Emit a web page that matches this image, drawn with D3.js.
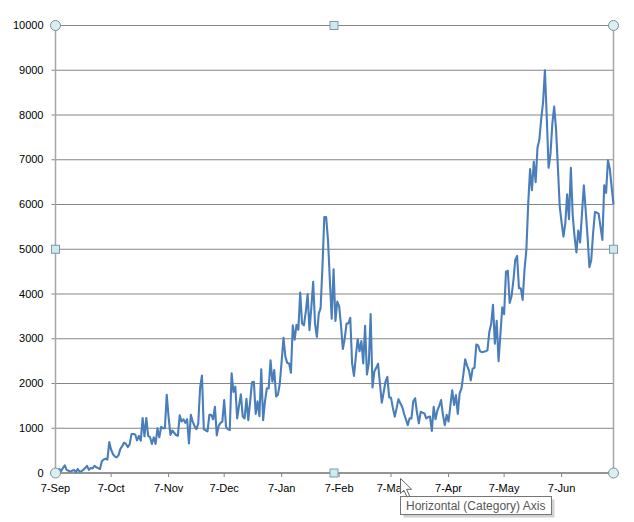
<!DOCTYPE html>
<html>
<head>
<meta charset="utf-8">
<script src="https://cdn.jsdelivr.net/npm/d3@7"></script>
<style>
  html, body { margin: 0; padding: 0; background: #fff; }
  svg { display: block; }
  text { font-family: "Liberation Sans", Arial, sans-serif; }
</style>
</head>
<body>
<svg id="chart" width="634" height="522"></svg>
<script>
// Daily counts, one entry per day from the start date onward.
const countsAutumn = [0,40,90,40,110,170,70,50,30,50,70,20,90,30,40,70,110,160,70,110,100,160,130,110,90,260,300,320,300,690,
  520,420,370,350,400,540,600,680,650,580,640,870,870,860,730,830,720,1230,820,1230,830,800,650,800,650,1000,800,1030,1000,1000,1750,
  1250,850,950,900,850,830,1290,1150,1200,1120,1200,660,1300,1150,1050,980,1100,1900,2180,980,950,930,1300,1300,1200,1480,840,1050,1120,1150,1630];
const countsWinter = [1030,980,960,2230,1810,1930,1220,1500,1760,1260,1220,1660,1180,1600,2030,2040,1320,1600,1270,2320,1180,1600,1890,1890,2520,2040,2300,1710,1750,2000,2500,
  3020,2600,2460,2450,2240,3300,2980,3310,3200,4030,3340,3300,3600,4000,3190,3700,4270,3340,3040,3560,3680,4600,5720,5720,5200,4300,3450,4550,3400,3830,3730,
  3300,2770,3000,3340,3340,3470,2450,2170,2600,2990,2720,2950,2450,3290,2200,2450,3550,1910,2270,2350,2440,2000,1570,1800,2040,2150,1690,1680];
const countsSpring = [1450,1260,1450,1650,1560,1480,1330,1200,1070,1220,1220,1600,1670,1350,1110,1370,1350,1330,1220,1250,1260,940,1480,1200,1400,1500,1630,1300,1070,1300,1150,
  1500,1850,1520,1740,1320,1780,1890,2200,2540,2400,2300,2070,2330,2350,2870,2850,2720,2700,2710,2720,2740,3150,3330,3760,2890,3400,2500,3100,3700,3550,
  4500,4520,3800,3950,4300,4760,4850,4130,4130,3870,4540,4990,6020,6790,6320,6960,6500,7270,7450,7910,8280,9000,7950,6820,7130,7800,8190,7690,6840,5950,5600,5280,5580];
const countsSummer = [6230,5670,6820,5760,5280,4930,5420,5150,5800,6430,5870,5280,4600,4760,5360,5830,5820,5790,5500,5210,6430,6260,6990,6800,6390,6000];

const counts = [...countsAutumn, ...countsWinter, ...countsSpring, ...countsSummer];
const startDate = new Date(2013, 8, 7);
const monthTicks = ["2013-09-07","2013-10-07","2013-11-07","2013-12-07","2014-01-07","2014-02-07","2014-03-07","2014-04-07","2014-05-07","2014-06-07"];
const valueTicks = [0,1000,2000,3000,4000,5000,6000,7000,8000,9000,10000];
const tooltipText = "Horizontal (Category) Axis";

const parseDay = d3.timeParse("%Y-%m-%d");
const series = counts.map((v, i) => ({ date: d3.timeDay.offset(startDate, i), value: v }));

const svg = d3.select("#chart");
const plotLeft = 55.5, plotRight = 613.5, plotTop = 25.5, plotBottom = 473;
const gridColor = "#868686";

const x = d3.scaleTime().domain(d3.extent(series, d => d.date)).range([plotLeft, plotRight]);
const y = d3.scaleLinear().domain([0, 10000]).range([plotBottom, plotTop]);

// Value axis: labels, outward ticks and full-width gridlines
const yAxis = svg.append("g").attr("transform", `translate(${plotLeft},0)`)
  .call(d3.axisLeft(y).offset(0).tickValues(valueTicks).tickFormat(d3.format("d")).tickSize(4).tickPadding(8));
yAxis.select(".domain").remove();
yAxis.selectAll("text").attr("font-size", 11).attr("fill", "#000");
yAxis.selectAll("line").attr("stroke", gridColor);
yAxis.selectAll(".tick").append("line")
  .attr("x1", 0).attr("x2", plotRight - plotLeft).attr("stroke", gridColor).attr("stroke-width", 1);

// Plot area sides; the selected frame shows a paler, heavier edge
svg.append("line").attr("x1", plotLeft).attr("x2", plotLeft).attr("y1", plotTop).attr("y2", plotBottom)
  .attr("stroke", "#a6a6a6").attr("stroke-width", 1.5);
svg.append("line").attr("x1", plotRight).attr("x2", plotRight).attr("y1", plotTop).attr("y2", plotBottom)
  .attr("stroke", "#a6a6a6").attr("stroke-width", 1.5);

// Date axis
const xAxis = svg.append("g").attr("transform", `translate(0,${plotBottom})`)
  .call(d3.axisBottom(x).offset(0).tickValues(monthTicks.map(parseDay)).tickFormat(d3.timeFormat("%-d-%b")).tickSize(4).tickPadding(7));
xAxis.select(".domain").attr("stroke", gridColor).attr("stroke-width", 1.5);
xAxis.selectAll("line").attr("stroke", gridColor);
xAxis.selectAll("text").attr("font-size", 11).attr("fill", "#000");

// Series line
svg.append("path").datum(series)
  .attr("fill", "none")
  .attr("stroke", "#4a7ebb")
  .attr("stroke-width", 2.1)
  .attr("stroke-linejoin", "round")
  .attr("d", d3.line().x(d => x(d.date)).y(d => y(d.value)));

// Selection handles: round at the corners, square at the edge midpoints
const midX = (plotLeft + plotRight) / 2 - 0.5, midY = (plotTop + plotBottom) / 2;
const corners = [[plotLeft, plotTop], [plotRight, plotTop], [plotLeft, plotBottom], [plotRight, plotBottom]];
const edges = [[midX, plotTop], [midX, plotBottom], [plotLeft, midY], [plotRight, midY]];
svg.append("g").selectAll("circle").data(corners).join("circle")
  .attr("cx", d => d[0]).attr("cy", d => d[1]).attr("r", 5)
  .attr("fill", "#d9f0f3").attr("stroke", "#7d8f96").attr("stroke-width", 1);
svg.append("g").selectAll("rect").data(edges).join("rect")
  .attr("x", d => d[0] - 4).attr("y", d => d[1] - 4).attr("width", 8).attr("height", 8)
  .attr("fill", "#cfe9f0").attr("stroke", "#7b9bad").attr("stroke-width", 1);

// Hover tooltip with its soft shadow
const tip = svg.append("g");
tip.append("rect").attr("x", 403.5).attr("y", 499.5).attr("width", 151).attr("height", 18)
  .attr("fill", "#bdbdbd").attr("opacity", 0.7);
tip.append("rect").attr("x", 400.5).attr("y", 496.5).attr("width", 151).attr("height", 18)
  .attr("fill", "#fff").attr("stroke", "#767676");
tip.append("text").attr("x", 406).attr("y", 510).attr("font-size", 12).attr("fill", "#575757").text(tooltipText);

// Mouse pointer resting over the axis labels
svg.append("path")
  .attr("d", "M400.5,478.5 v15 l3.5,-3.2 l3,6.7 l2.6,-1.2 l-3,-6.5 h5 z")
  .attr("fill", "#fff").attr("stroke", "#666").attr("stroke-width", 1);
</script>
</body>
</html>
